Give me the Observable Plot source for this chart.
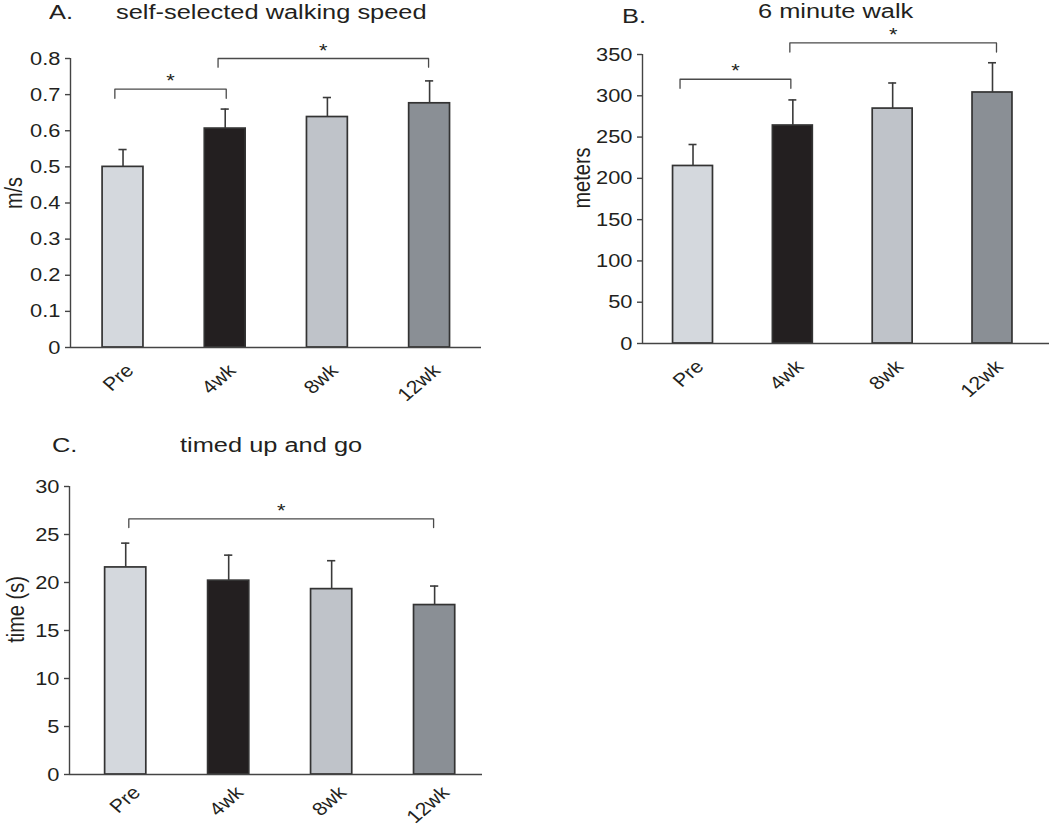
<!DOCTYPE html>
<html>
<head>
<meta charset="utf-8">
<script src="https://cdn.jsdelivr.net/npm/d3@7"></script>
<script src="https://cdn.jsdelivr.net/npm/@observablehq/plot@0.6"></script>
<style>
  html, body { margin: 0; padding: 0; background: #fff; }
  #page { position: relative; width: 1050px; height: 827px; overflow: hidden; font-family: "Liberation Sans", Arial, sans-serif; color: #231f20; }
  .panel { position: absolute; }
  .title { position: absolute; font-size: 20px; line-height: 20px; white-space: nowrap; transform: scaleX(1.27); transform-origin: left top; color: #231f20; }
</style>
</head>
<body>
<div id="page"></div>
<script>
// ---------- data ----------
const categories = ["Pre", "4wk", "8wk", "12wk"];

const speedMean = [0.500, 0.606, 0.638, 0.676];
const speedErr  = [0.048, 0.054, 0.054, 0.062];
const speedTicks = [0, 0.1, 0.2, 0.3, 0.4, 0.5, 0.6, 0.7, 0.8];
const speedBrackets = [
  {from: -0.08, to: 1.01, level: 0.715, end: 0.690},
  {from: 0.93, to: 2.99, level: 0.800, end: 0.776}
];

const walkMean = [215, 264, 284.5, 304];
const walkErr  = [26, 31, 31, 36];
const walkTicks = [0, 50, 100, 150, 200, 250, 300, 350];
const walkBrackets = [
  {from: -0.13, to: 0.98, level: 320, end: 309},
  {from: 0.97, to: 3.04, level: 364, end: 353}
];

const tugMean = [21.57, 20.19, 19.31, 17.65];
const tugErr  = [2.53, 2.66, 2.96, 1.98];
const tugTicks = [0, 5, 10, 15, 20, 25, 30];
const tugBrackets = [
  {from: 0.03, to: 2.99, level: 26.63, end: 25.73}
];

const titles = [
  {letter: "A.", text: "self-selected walking speed"},
  {letter: "B.", text: "6 minute walk"},
  {letter: "C.", text: "timed up and go"}
];
const yLabels = ["m/s", "meters", "time (s)"];

// ---------- style ----------
const barColors = ["#d4d8dd", "#231f20", "#bfc3c9", "#8a8f95"];
const HALF = 0.2;   // bar half-width in category units
const CAP = 0.04;   // error cap half-width
const INK = "#231f20";

function stretch(svg, k) {
  svg.querySelectorAll("text").forEach(t => {
    let tr = t.getAttribute("transform");
    if (!tr) {
      const x = t.getAttribute("x"), y = t.getAttribute("y");
      if (x == null && y == null) return;
      tr = `translate(${x || 0},${y || 0})`;
      t.removeAttribute("x"); t.removeAttribute("y");
    }
    if (tr.includes("rotate(")) t.setAttribute("transform", tr.replace("rotate(", `scale(${k},1) rotate(`));
    else t.setAttribute("transform", tr + ` scale(${k},1)`);
  });
}

function panel(o) {
  const rows = categories.map((c, i) => ({c, i, mean: o.mean[i], top: o.mean[i] + o.err[i], fill: barColors[i]}));
  const bracketPts = o.brackets.flatMap((b, k) => [
    {id: k, x: b.from, y: b.end},
    {id: k, x: b.from, y: b.level},
    {id: k, x: b.to, y: b.level},
    {id: k, x: b.to, y: b.end}
  ]);
  const svg = Plot.plot({
    width: o.width, height: o.height,
    marginLeft: o.ml, marginRight: o.mr, marginTop: o.mt, marginBottom: o.mb,
    style: {fontFamily: "Liberation Sans, Arial, sans-serif", fontSize: "19px", color: INK, background: "transparent", overflow: "visible"},
    color: {type: "identity"},
    x: {domain: o.xDomain},
    y: {domain: o.yDomain},
    marks: [
      Plot.rect(rows, {x1: d => d.i - HALF, x2: d => d.i + HALF, y1: 0, y2: "mean", fill: "fill", stroke: "#333", strokeWidth: 1.7}),
      Plot.ruleX(rows, {x: "i", y1: "mean", y2: "top", stroke: "#3a3a3a", strokeWidth: 1.6}),
      Plot.ruleY(rows, {y: "top", x1: d => d.i - CAP, x2: d => d.i + CAP, stroke: "#3a3a3a", strokeWidth: 1.6}),
      Plot.line(bracketPts, {x: "x", y: "y", z: "id", stroke: "#4a4a4a", strokeWidth: 1.3}),
      Plot.text(o.brackets, {x: d => (d.from + d.to) / 2, y: "level", text: () => "*", dy: -8, fontSize: 19, fill: INK}),
      Plot.ruleY([o.yDomain[0]], {stroke: "#444", strokeWidth: 1.4}),
      Plot.ruleX([o.xDomain[0]], {y1: o.yDomain[0], y2: o.yDomain[1], stroke: "#444", strokeWidth: 1.4}),
      Plot.axisY({ticks: o.yTicks, tickFormat: d => String(d), tickSize: 5, tickPadding: 5, label: null, stroke: "#444", strokeWidth: 1.4, fill: INK, fontSize: 19}),
      Plot.axisX({ticks: [0, 1, 2, 3], tickFormat: i => categories[i], tickRotate: -45, tickSize: 0, tickPadding: 10, dx: o.xdx, dy: o.xdy, label: null, fill: INK, fontSize: 18.5}),
      Plot.text([o.yLabel], {text: d => d, frameAnchor: "left", textAnchor: "middle", rotate: -90, dx: o.labelDx, dy: o.labelDy, fontSize: 20, fill: INK})
    ]
  });
  stretch(svg, 1.15);
  return svg;
}

const page = document.getElementById("page");

function place(svg, left, top) {
  const d = document.createElement("div");
  d.className = "panel";
  d.style.left = left + "px"; d.style.top = top + "px";
  d.appendChild(svg);
  page.appendChild(d);
}

function title(text, left, top) {
  const d = document.createElement("div");
  d.className = "title";
  d.textContent = text;
  d.style.left = left + "px"; d.style.top = top + "px";
  page.appendChild(d);
}

place(panel({mean: speedMean, err: speedErr, brackets: speedBrackets, yTicks: speedTicks, yDomain: [0, 0.8],
  yLabel: yLabels[0], width: 490, height: 420, ml: 70, mr: 9, mt: 58, mb: 73, xDomain: [-0.514, 3.508],
  labelDx: -56, labelDy: -10, xdx: 7, xdy: 10}), 0, 0);

place(panel({mean: walkMean, err: walkErr, brackets: walkBrackets, yTicks: walkTicks, yDomain: [0, 350],
  yLabel: yLabels[1], width: 530, height: 420, ml: 122, mr: 1, mt: 54, mb: 77, xDomain: [-0.506, 3.571],
  labelDx: -60, labelDy: -21, xdx: 7, xdy: 10}), 520, 0);

place(panel({mean: tugMean, err: tugErr, brackets: tugBrackets, yTicks: tugTicks, yDomain: [0, 30],
  yLabel: yLabels[2], width: 490, height: 397, ml: 69, mr: 8, mt: 56, mb: 53, xDomain: [-0.546, 3.465],
  labelDx: -53, labelDy: -21, xdx: 11, xdy: 5}), 0, 430);

title(titles[0].letter, 49, 2);
title(titles[0].text, 116, 2);
title(titles[1].letter, 622, 6);
title(titles[1].text, 758, 1);
title(titles[2].letter, 52, 435);
title(titles[2].text, 180, 435);
</script>
</body>
</html>
